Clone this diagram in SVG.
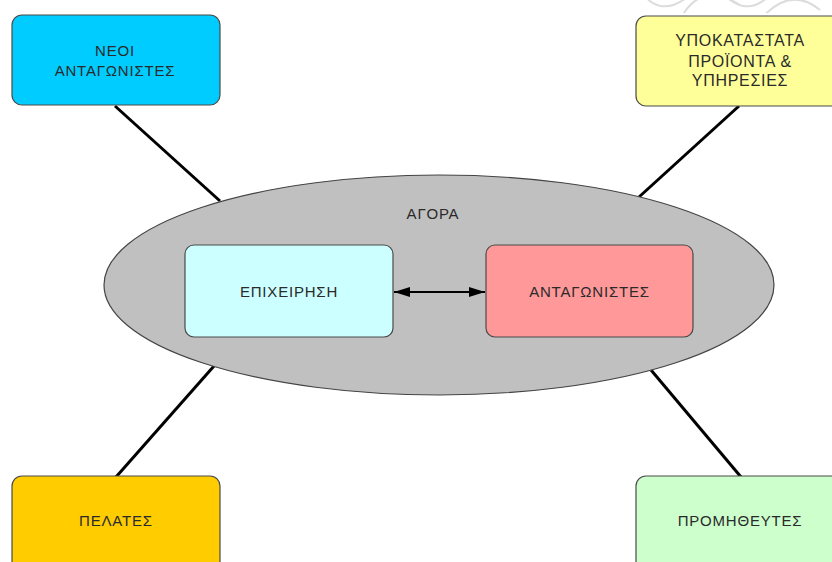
<svg xmlns="http://www.w3.org/2000/svg" width="832" height="562" viewBox="0 0 832 562">
  <defs>
    <style>
      .box { stroke: #4a4a4a; stroke-width: 1.2; }
      .lbl { font-family: "Liberation Sans", Arial, sans-serif; font-size: 15px; letter-spacing: 0.8px; fill: #2a2a2a; text-anchor: middle; }
      .big { font-size: 16px; letter-spacing: 0.7px; }
      .spoke { stroke: #000; stroke-width: 3; fill: none; }
      .link { stroke: #000; stroke-width: 2; fill: none; }
    </style>
    <marker id="head" viewBox="0 0 16 10" refX="16" refY="5" markerWidth="16" markerHeight="10" orient="auto-start-reverse" markerUnits="userSpaceOnUse">
      <path d="M0,0 L16,5 L0,10 Z" fill="#000"/>
    </marker>
    <clipPath id="topband"><rect x="560" y="0" width="272" height="13"/></clipPath>
  </defs>

  <rect width="832" height="562" fill="#fff"/>

  <!-- faint decoration along the top edge -->
  <g clip-path="url(#topband)" fill="none" stroke="#dcdcdc" stroke-width="2">
    <path d="M640,-10 Q660,20 690,-5"/>
    <path d="M680,20 Q700,-20 740,5"/>
    <path d="M720,-10 Q745,20 770,-5"/>
    <path d="M760,20 Q790,-15 820,10"/>
  </g>

  <!-- connectors -->
  <g id="connectors">
    <line class="spoke" x1="115" y1="106" x2="220" y2="201"/>
    <line class="spoke" x1="739" y1="106" x2="639" y2="197"/>
    <line class="spoke" x1="214" y1="366" x2="116" y2="477"/>
    <line class="spoke" x1="651" y1="370" x2="741" y2="477"/>
  </g>

  <g id="market">
    <ellipse cx="439" cy="285" rx="335" ry="110" fill="#c0c0c0" stroke="#444" stroke-width="1.2"/>
    <text class="lbl" x="433" y="219">ΑΓΟΡΑ</text>
  </g>

  <g id="arrow">
    <line class="link" x1="394" y1="292" x2="485" y2="292" marker-start="url(#head)" marker-end="url(#head)"/>
  </g>

  <g id="business">
    <rect class="box" x="185" y="245" width="208" height="92" rx="9" fill="#ccffff"/>
    <text class="lbl" x="289" y="297">ΕΠΙΧΕΙΡΗΣΗ</text>
  </g>

  <g id="competitors">
    <rect class="box" x="486" y="245" width="207" height="92" rx="9" fill="#ff9999"/>
    <text class="lbl" x="589.5" y="297">ΑΝΤΑΓΩΝΙΣΤΕΣ</text>
  </g>

  <g id="new-entrants">
    <rect class="box" x="12" y="15" width="208" height="90" rx="10" fill="#00ccff"/>
    <text class="lbl" x="115" y="55.5">ΝΕΟΙ</text>
    <text class="lbl" x="115" y="75.5">ΑΝΤΑΓΩΝΙΣΤΕΣ</text>
  </g>

  <g id="substitutes">
    <rect class="box" x="636" y="16" width="206" height="90" rx="10" fill="#ffff99"/>
    <text class="lbl big" x="740" y="46">ΥΠΟΚΑΤΑΣΤΑΤΑ</text>
    <text class="lbl big" x="740" y="66.5">ΠΡΟΪΟΝΤΑ &amp;</text>
    <text class="lbl big" x="740" y="86">ΥΠΗΡΕΣΙΕΣ</text>
  </g>

  <g id="customers">
    <rect class="box" x="12" y="476" width="208" height="100" rx="10" fill="#ffcc00"/>
    <text class="lbl" x="116" y="526">ΠΕΛΑΤΕΣ</text>
  </g>

  <g id="suppliers">
    <rect class="box" x="636" y="476" width="206" height="100" rx="10" fill="#ccffcc"/>
    <text class="lbl" x="740" y="526">ΠΡΟΜΗΘΕΥΤΕΣ</text>
  </g>
</svg>
